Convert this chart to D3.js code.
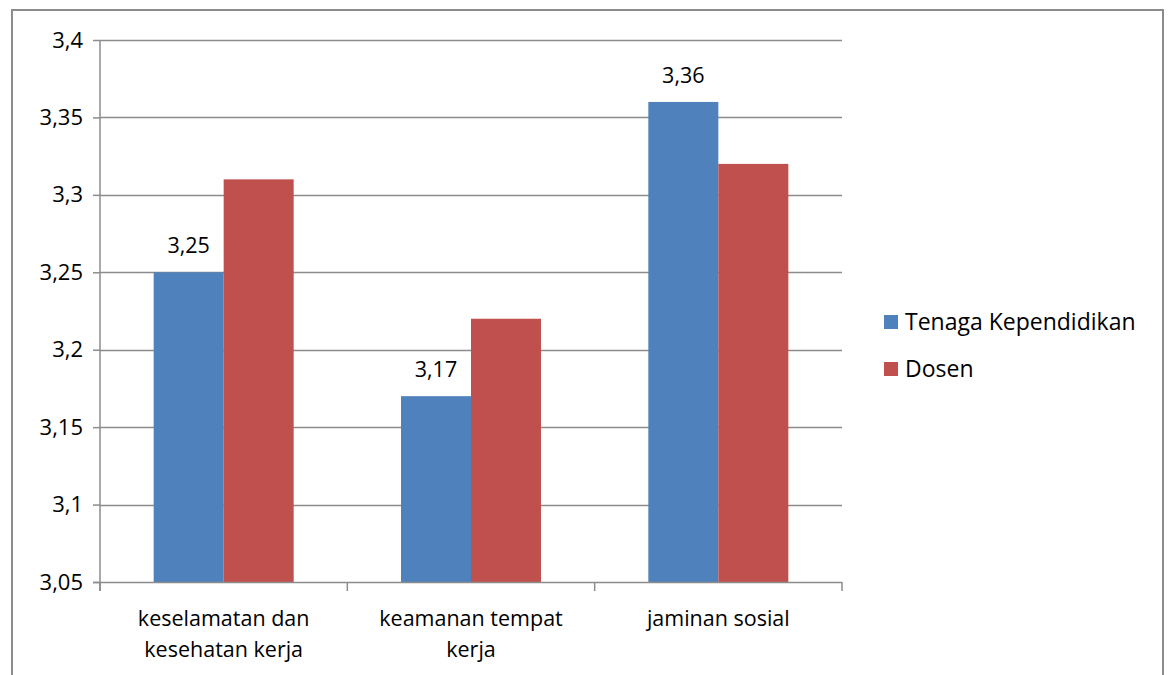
<!DOCTYPE html>
<html>
<head>
<meta charset="utf-8">
<script src="https://cdn.jsdelivr.net/npm/d3@7"></script>
<style>
  body { margin: 0; background: #fff; }
  text { font-family: "Open Sans", sans-serif; fill: #000; }
</style>
</head>
<body>
<svg id="chart" width="1170" height="675"></svg>
<script>
// data
var categories = [["keselamatan dan", "kesehatan kerja"], ["keamanan tempat", "kerja"], ["jaminan sosial"]];
var seriesNames = ["Tenaga Kependidikan", "Dosen"];
var tenagaValues = [3.25, 3.17, 3.36];
var dosenValues = [3.31, 3.22, 3.32];
var yTicks = [3.05, 3.1, 3.15, 3.2, 3.25, 3.3, 3.35, 3.4];
var colors = ["#4F81BD", "#C0504D"];

var svg = d3.select("#chart");
var fontSize = "21.5px";

// outer chart border
svg.append("rect")
    .attr("x", 12).attr("y", 10)
    .attr("width", 1151).attr("height", 680)
    .attr("fill", "none")
    .attr("stroke", "#8c8c8c")
    .attr("stroke-width", 2);

var plotLeft = 100, plotRight = 842, plotTop = 40, plotBottom = 582;

var x = d3.scaleBand()
    .domain(d3.range(categories.length))
    .range([plotLeft, plotRight]);

var y = d3.scaleLinear().domain([3.05, 3.4]).range([plotBottom, plotTop]);

// gridlines
svg.append("g").selectAll("line")
    .data(yTicks.slice(1))
    .enter().append("line")
    .attr("x1", plotLeft).attr("x2", plotRight)
    .attr("y1", function(d) { return Math.round(y(d)) + 0.5; })
    .attr("y2", function(d) { return Math.round(y(d)) + 0.5; })
    .attr("stroke", "#8c8c8c")
    .attr("stroke-width", 1.5);

// y axis
var yAxis = d3.axisLeft(y)
    .tickValues(yTicks)
    .tickSize(7)
    .tickPadding(10)
    .tickFormat(function(d) { return String(+d.toFixed(2)).replace(".", ","); });

var gy = svg.append("g").attr("transform", "translate(" + plotLeft + ",0)").call(yAxis);
gy.select(".domain").attr("stroke", "#8c8c8c").attr("stroke-width", 1.5)
    .attr("d", "M0," + plotTop + "V" + (plotBottom + 9));
gy.selectAll(".tick line").attr("stroke", "#8c8c8c").attr("stroke-width", 1.5);
gy.selectAll(".tick text").style("font-size", "22px").attr("fill", "#000")
    .style("font-family", "'Open Sans', sans-serif");

// bars
var bw = 70;
[tenagaValues, dosenValues].forEach(function(vals, s) {
  svg.append("g").selectAll("rect")
      .data(vals)
      .enter().append("rect")
      .attr("x", function(d, i) { return x(i) + x.bandwidth() / 2 - bw + s * bw; })
      .attr("width", bw)
      .attr("y", function(d) { return y(d); })
      .attr("height", function(d) { return plotBottom - y(d); })
      .attr("fill", colors[s]);
});

// data labels on the first series only
svg.append("g").selectAll("text")
    .data(tenagaValues)
    .enter().append("text")
    .attr("x", function(d, i) { return x(i) + x.bandwidth() / 2 - bw / 2; })
    .attr("y", function(d) { return y(d) - 19; })
    .attr("text-anchor", "middle")
    .style("font-size", fontSize)
    .text(function(d) { return String(d).replace(".", ","); });

// x axis
svg.append("line")
    .attr("x1", plotLeft - 7).attr("x2", plotRight)
    .attr("y1", plotBottom + 0.5).attr("y2", plotBottom + 0.5)
    .attr("stroke", "#8c8c8c").attr("stroke-width", 1.5);

svg.append("g").selectAll("line")
    .data(d3.range(categories.length + 1))
    .enter().append("line")
    .attr("x1", function(d) { return d < categories.length ? x(d) : plotRight; })
    .attr("x2", function(d) { return d < categories.length ? x(d) : plotRight; })
    .attr("y1", plotBottom).attr("y2", plotBottom + 9)
    .attr("stroke", "#8c8c8c").attr("stroke-width", 1.5);

svg.append("g").selectAll("text")
    .data(categories)
    .enter().append("text")
    .attr("text-anchor", "middle")
    .style("font-size", fontSize)
    .attr("transform", function(d, i) { return "translate(" + (x(i) + x.bandwidth() / 2) + "," + (plotBottom + 44) + ")"; })
    .each(function(d) {
      var t = d3.select(this);
      d.forEach(function(line, j) {
        t.append("tspan").attr("x", 0).attr("dy", j === 0 ? 0 : 31).text(line);
      });
    });

// legend
var legend = svg.append("g").selectAll("g")
    .data(seriesNames)
    .enter().append("g")
    .attr("transform", function(d, i) { return "translate(884," + (322 + i * 47) + ")"; });

legend.append("rect")
    .attr("x", 0).attr("y", -7)
    .attr("width", 14).attr("height", 14)
    .attr("fill", function(d, i) { return colors[i]; });

legend.append("text")
    .attr("x", 21).attr("y", 8)
    .style("font-size", "23px")
    .text(function(d) { return d; });
</script>
</body>
</html>
